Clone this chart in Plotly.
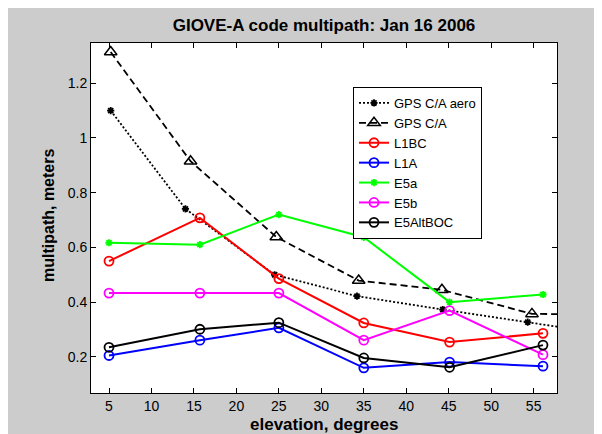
import plotly.graph_objects as go

# ---- data ----
elev_gps_aero = [5.2, 14.0, 24.5, 34.2, 44.3, 54.3, 64.3]
mp_gps_aero = [1.100, 0.741, 0.500, 0.422, 0.373, 0.327, 0.280]

elev_gps = [5.2, 14.6, 24.7, 34.4, 44.2, 54.8, 64.8]
mp_gps = [1.314, 0.915, 0.638, 0.479, 0.445, 0.357, 0.355]

elev_gal = [5.0, 15.7, 25.0, 35.0, 45.1, 56.1]
mp_l1bc = [0.550, 0.708, 0.486, 0.324, 0.254, 0.286]
mp_l1a = [0.205, 0.261, 0.306, 0.160, 0.181, 0.166]
mp_e5a = [0.617, 0.610, 0.720, 0.637, 0.400, 0.428]
mp_e5b = [0.433, 0.433, 0.433, 0.261, 0.369, 0.208]
mp_e5altboc = [0.235, 0.301, 0.325, 0.196, 0.162, 0.243]

x_tickvals = [5, 10, 15, 20, 25, 30, 35, 40, 45, 50, 55]
x_ticktext = ["5", "10", "15", "20", "25", "30", "35", "40", "45", "50", "55"]
y_tickvals = [0.2, 0.4, 0.6, 0.8, 1.0, 1.2]
y_ticktext = ["0.2", "0.4", "0.6", "0.8", "1", "1.2"]

title_text = "GIOVE-A code multipath: Jan 16 2006"
x_label = "elevation, degrees"
y_label = "multipath, meters"

FONT = "Liberation Sans, Arial, Helvetica, sans-serif"

fig = go.Figure()

fig.add_trace(go.Scatter(
    x=elev_gps_aero, y=mp_gps_aero, name="GPS C/A aero", mode="lines+markers",
    line=dict(color="black", width=1.8, dash="2px,2px"),
    marker=dict(symbol="asterisk-open", size=6, color="black", line=dict(color="black", width=1.8)),
))
fig.add_trace(go.Scatter(
    x=elev_gps, y=mp_gps, name="GPS C/A", mode="lines+markers",
    line=dict(color="black", width=1.8, dash="7px,4px"),
    marker=dict(symbol="triangle-up-open", size=11, color="black", line=dict(color="black", width=1.5)),
))

gal_series = [
    ("L1BC", mp_l1bc, "#ff0000", "circle-open", 9),
    ("L1A", mp_l1a, "#0000ff", "circle-open", 9),
    ("E5a", mp_e5a, "#00ff00", "asterisk-open", 6),
    ("E5b", mp_e5b, "#ff00ff", "circle-open", 9),
    ("E5AltBOC", mp_e5altboc, "#000000", "circle-open", 9),
]
for name, vals, col, sym, sz in gal_series:
    fig.add_trace(go.Scatter(
        x=elev_gal, y=vals, name=name, mode="lines+markers",
        line=dict(color=col, width=2),
        marker=dict(symbol=sym, size=sz, color=col, line=dict(color=col, width=1.8)),
    ))

# paper coordinate helpers (plot area: x 83..549 px, y 35..385 px)
L, R, T, B = 83, 549, 35, 385
W, H = 602, 434
def px(x):
    return (x - L) / (R - L)
def py(y):
    return (B - y) / (B - T)

fig.update_layout(
    width=W, height=H,
    margin=dict(l=L, r=W - R, t=T, b=H - B),
    paper_bgcolor="#cccccc",
    plot_bgcolor="white",
    font=dict(family=FONT, color="black", size=14),
    title=dict(text=title_text, x=0.5, xref="paper", xanchor="center",
               y=1 - 17 / H, yref="container", yanchor="middle",
               font=dict(family=FONT, size=17, weight="bold", color="black")),
    showlegend=True,
    legend=dict(x=px(345), y=py(79), xanchor="left", yanchor="top",
                bgcolor="white", bordercolor="black", borderwidth=1,
                font=dict(family=FONT, size=13, color="black"),
                tracegroupgap=0),
    annotations=[
        dict(text=x_label, xref="paper", yref="paper", x=0.5, y=py(416),
             xanchor="center", yanchor="middle", showarrow=False,
             font=dict(family=FONT, size=17, weight="bold", color="black")),
        dict(text=y_label, xref="paper", yref="paper", x=px(40), y=py(208),
             xanchor="center", yanchor="middle", showarrow=False, textangle=-90,
             font=dict(family=FONT, size=16, weight="bold", color="black")),
    ],
)

fig.update_xaxes(
    range=[2.88, 57.75], tickmode="array", tickvals=x_tickvals, ticktext=x_ticktext,
    ticks="inside", ticklen=5, tickcolor="black", tickwidth=1,
    showline=True, linecolor="black", linewidth=1, mirror="allticks",
    showgrid=False, zeroline=False,
    tickfont=dict(family=FONT, size=14, color="black"),
)
fig.update_yaxes(
    range=[0.068, 1.347], tickmode="array", tickvals=y_tickvals, ticktext=y_ticktext,
    ticks="inside", ticklen=5, tickcolor="black", tickwidth=1,
    showline=True, linecolor="black", linewidth=1, mirror="allticks",
    showgrid=False, zeroline=False,
    tickfont=dict(family=FONT, size=14, color="black"),
)

fig.write_html("out.html")
